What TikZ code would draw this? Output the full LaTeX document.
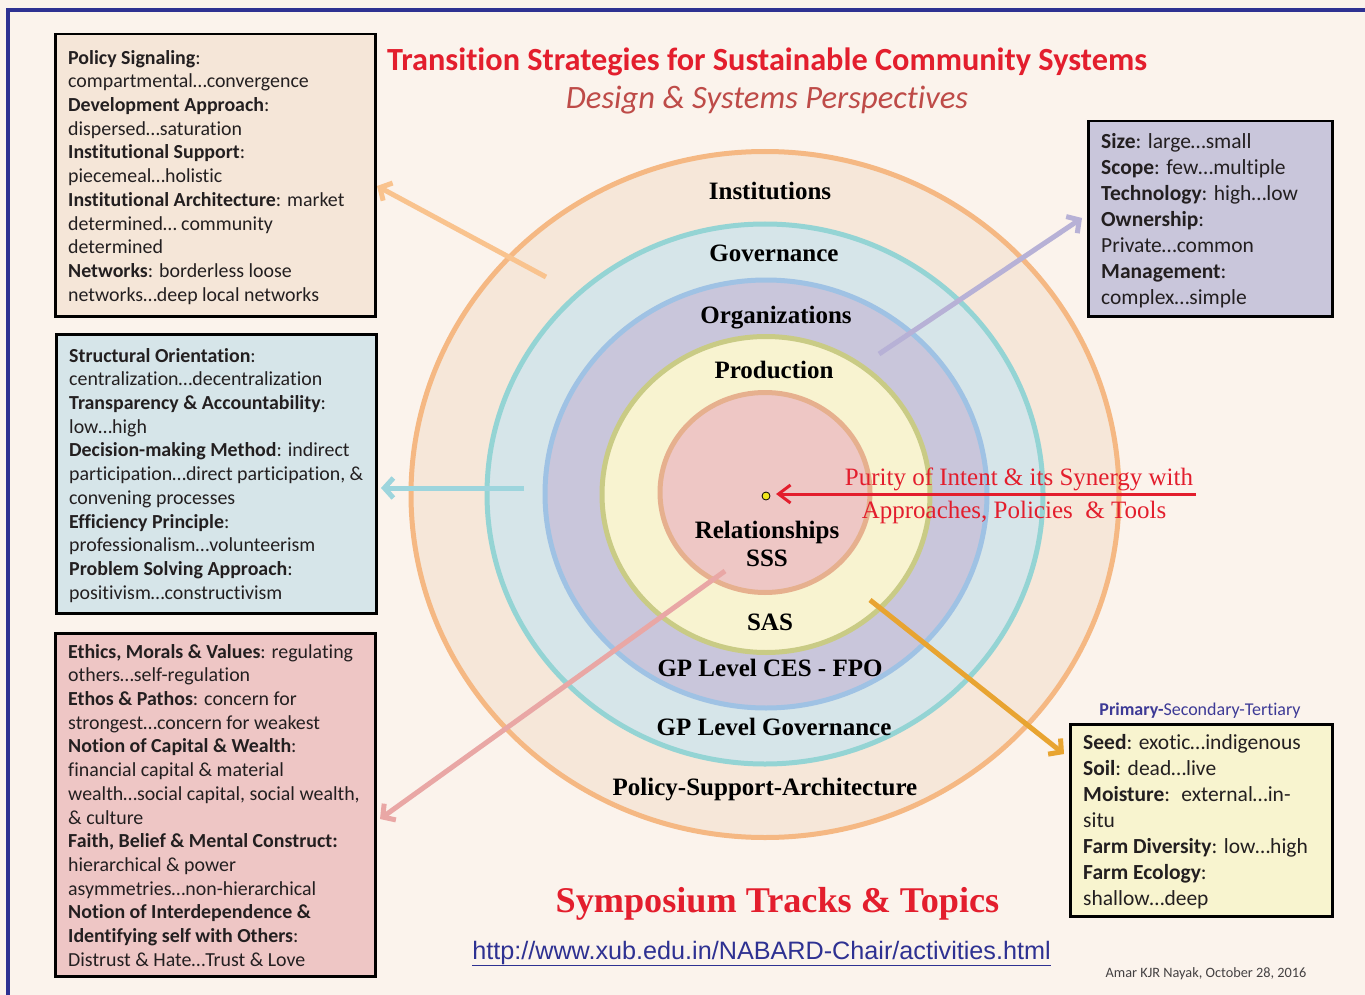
\documentclass[tikz,border=0pt]{standalone}
\usepackage{fontspec}
\setmainfont{Carlito}[Ligatures=NoCommon]
\newfontfamily\tnr{Liberation Serif}
\newfontfamily\arialf{Liberation Sans}
\usetikzlibrary{arrows.meta}
\definecolor{bgc}{HTML}{FBF3EC}
\definecolor{framec}{HTML}{2E3192}
\definecolor{rAf}{HTML}{F6E7D9}\definecolor{rAd}{HTML}{F5B883}
\definecolor{rBf}{HTML}{D6E5E9}\definecolor{rBd}{HTML}{94D4D4}
\definecolor{rCf}{HTML}{C9C6DB}\definecolor{rCd}{HTML}{9FC2E4}
\definecolor{rDf}{HTML}{F8F3D0}\definecolor{rDd}{HTML}{C9CB85}
\definecolor{rEf}{HTML}{EEC7C5}\definecolor{rEd}{HTML}{E6B08E}
\definecolor{bxA}{HTML}{F5E6D8}\definecolor{bxB}{HTML}{D6E5E9}
\definecolor{bxC}{HTML}{EEC6C5}\definecolor{bxD}{HTML}{C9C6DB}
\definecolor{bxE}{HTML}{F8F4CF}
\definecolor{titlered}{HTML}{E31E2D}
\definecolor{subred}{HTML}{BE4B48}
\definecolor{txt}{HTML}{231F20}
\definecolor{arA}{HTML}{F9C38E}\definecolor{arB}{HTML}{9DD5DD}
\definecolor{arC}{HTML}{B7B1D6}\definecolor{arD}{HTML}{E9A7A5}
\definecolor{arE}{HTML}{E8A431}
\definecolor{dotc}{HTML}{F2E61C}
\definecolor{bluetxt}{HTML}{3D3A96}
\begin{document}
\begin{tikzpicture}[x=1pt,y=-1pt,
  ring/.style={line width=5pt},
  ringlbl/.style={font=\tnr\bfseries\fontsize{25}{28}\selectfont, inner sep=0pt, text=black, anchor=base},
  infobox/.style={draw=black, line width=2.5pt, anchor=north west, inner sep=0pt},
  btext/.style={anchor=north west, inner sep=0pt, align=left, text=txt, font=\fontsize{19.9}{23.7}\selectfont},
  btextwide/.style={btext, font=\fontsize{21.5}{26}\selectfont},
  fatarrow/.style={line width=5pt, -{Straight Barb[length=9pt, width=20pt]}}
]
\useasboundingbox (0,0) rectangle (1365,995);
\clip (0,0) rectangle (1365,995);
\fill[bgc] (0,0) rectangle (1365,995);
\draw[framec, line width=4pt] (8,1010) -- (8,10) -- (1380,10);

% rings
\filldraw[ring, fill=rAf, draw=rAd] (765,494.5) ellipse [x radius=354, y radius=343];
\filldraw[ring, fill=rBf, draw=rBd] (765,494) ellipse [x radius=278, y radius=270];
\filldraw[ring, fill=rCf, draw=rCd] (766,494) ellipse [x radius=221, y radius=214];
\filldraw[ring, fill=rDf, draw=rDd] (766,494.5) ellipse [x radius=164, y radius=158];
\filldraw[ring, fill=rEf, draw=rEd] (765,492.5) ellipse [x radius=105, y radius=100];

% ring labels
\node[ringlbl] (lInst) at (770,200) {Institutions};
\node[ringlbl] (lGov) at (774,261) {Governance};
\node[ringlbl] (lOrg) at (776,323) {Organizations};
\node[ringlbl] (lProd) at (774,378) {Production};
\node[ringlbl] (lRel) at (767,538) {Relationships};
\node[ringlbl] (lSSS) at (767,566) {SSS};
\node[ringlbl] (lSAS) at (770,630) {SAS};
\node[ringlbl] (lCES) at (770,676) {GP Level CES - FPO};
\node[ringlbl] (lGPG) at (774,735) {GP Level Governance};
\node[ringlbl] (lPSA) at (765,795) {Policy-Support-Architecture};

% titles
\node[anchor=base, inner sep=0pt, text=titlered, font=\bfseries\fontsize{32.3}{34}\selectfont] (title) at (767,71) {Transition Strategies for Sustainable Community Systems};
\node[anchor=base, inner sep=0pt, text=subred, font=\itshape\fontsize{32.6}{34}\selectfont] (subtitle) at (767,108.5) {Design \& Systems Perspectives};

% boxes
\node[infobox, fill=bxA, minimum width=320pt, minimum height=282pt] (box1) at (54,33) {};
\node[btext] (t1) at (68,50) {\textbf{Policy Signaling}:\\
compartmental…convergence\\
\textbf{Development Approach}:\\
dispersed…saturation\\
\textbf{Institutional Support}:\\
piecemeal…holistic\\
\textbf{Institutional Architecture}: market\\
determined… community\\
determined\\
\textbf{Networks}: borderless loose\\
networks…deep local networks};

\node[infobox, fill=bxB, minimum width=320pt, minimum height=279pt] (box2) at (55,333) {};
\node[btext] (t2) at (69,348) {\textbf{Structural Orientation}:\\
centralization…decentralization\\
\textbf{Transparency \& Accountability}:\\
low…high\\
\textbf{Decision-making Method}: indirect\\
participation…direct participation, \&\\
convening processes\\
\textbf{Efficiency Principle}:\\
professionalism…volunteerism\\
\textbf{Problem Solving Approach}:\\
positivism…constructivism};

\node[infobox, fill=bxC, minimum width=320pt, minimum height=343pt] (box3) at (54,632) {};
\node[btext] (t3) at (68,644) {\textbf{Ethics, Morals \& Values}: regulating\\
others…self-regulation\\
\textbf{Ethos \& Pathos}: concern for\\
strongest…concern for weakest\\
\textbf{Notion of Capital \& Wealth}:\\
financial capital \& material\\
wealth…social capital, social wealth,\\
\& culture\\
\textbf{Faith, Belief \& Mental Construct:}\\
hierarchical \& power\\
asymmetries…non-hierarchical\\
\textbf{Notion of Interdependence \&}\\
\textbf{Identifying self with Others}:\\
Distrust \& Hate…Trust \& Love};

\node[infobox, fill=bxD, minimum width=244pt, minimum height=195pt] (box4) at (1087,120) {};
\node[btextwide] (t4) at (1101,133) {\textbf{Size}: large…small\\
\textbf{Scope}: few…multiple\\
\textbf{Technology}: high…low\\
\textbf{Ownership}:\\
Private…common\\
\textbf{Management}:\\
complex…simple};

\node[infobox, fill=bxE, minimum width=262pt, minimum height=192pt] (box5) at (1069,723) {};
\node[btextwide] (t5) at (1083,734) {\textbf{Seed}: exotic…indigenous\\
\textbf{Soil}: dead…live\\
\textbf{Moisture}:~ external…in-\\
situ\\
\textbf{Farm Diversity}: low…high\\
\textbf{Farm Ecology}:\\
shallow…deep};

\node[anchor=base, inner sep=0pt, text=bluetxt, font=\fontsize{18}{20}\selectfont] (pst) at (1200,715) {\textbf{Primary-}Secondary-Tertiary};

% arrows
\coordinate (a1s) at (546,277); \coordinate (a1e) at (377,186);
\coordinate (a2s) at (524,488); \coordinate (a2e) at (381,488);
\coordinate (a3s) at (879,354); \coordinate (a3e) at (1082,218);
\coordinate (a4s) at (725,571); \coordinate (a4e) at (380,819);
\coordinate (a5s) at (870,600); \coordinate (a5e) at (1064,754);
\draw[fatarrow, arA] (a1s) -- (a1e);
\draw[fatarrow, arB] (a2s) -- (a2e);
\draw[fatarrow, arC] (a3s) -- (a3e);
\draw[fatarrow, arD] (a4s) -- (a4e);
\draw[fatarrow, arE] (a5s) -- (a5e);

% centre dot and red arrow
\node[circle, fill=dotc, draw=black, line width=0.8pt, minimum size=8pt, inner sep=0pt] (dot) at (766,496) {};
\coordinate (redstart) at (1196,494);
\draw[titlered, line width=3pt, shorten >=10pt, -{Straight Barb[length=12pt, width=18pt]}] (redstart) -- (dot.center |- redstart);
\node[anchor=base, inner sep=0pt, text=titlered, font=\tnr\fontsize{25}{28}\selectfont] (pur1) at (1019,485) {Purity of Intent \& its Synergy with};
\node[anchor=base, inner sep=0pt, text=titlered, font=\tnr\fontsize{25}{28}\selectfont] (pur2) at (1014,518) {Approaches, Policies~ \& Tools};

% bottom
\node[anchor=base, inner sep=0pt, text=titlered, font=\tnr\bfseries\fontsize{36.2}{38}\selectfont] (symp) at (777.5,912) {Symposium Tracks \& Topics};
\node[anchor=base, inner sep=0pt, text=framec, font=\arialf\fontsize{25.2}{28}\selectfont] (url) at (761.5,959) {\underline{http://www.xub.edu.in/NABARD-Chair/activities.html}};
\node[anchor=base, inner sep=0pt, text=txt!85, font=\fontsize{14.3}{16}\selectfont] (auth) at (1206,977) {Amar KJR Nayak, October 28, 2016};
\end{tikzpicture}
\end{document}
